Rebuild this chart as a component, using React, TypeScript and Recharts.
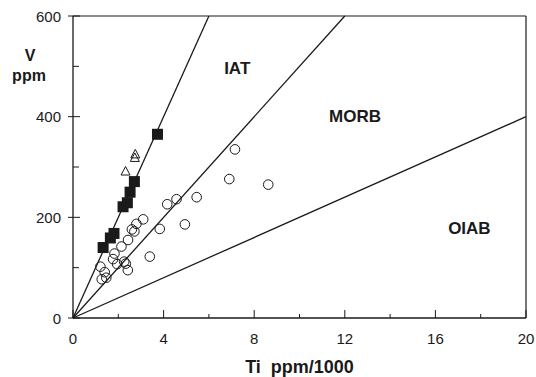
import React from 'react';
import {
  ScatterChart, Scatter, XAxis, YAxis, ReferenceLine, ReferenceDot, Label,
} from 'recharts';

// Ti (ppm/1000) vs V (ppm) discrimination diagram
const squares = [
  { x: 1.33, y: 140 }, { x: 1.65, y: 159 }, { x: 1.81, y: 168 },
  { x: 2.21, y: 221 }, { x: 2.40, y: 229 }, { x: 2.52, y: 250 },
  { x: 2.71, y: 271 }, { x: 3.73, y: 365 },
];

const triangles = [
  { x: 2.32, y: 291 }, { x: 2.73, y: 318 }, { x: 2.75, y: 325 },
];

const circles = [
  { x: 7.15, y: 335 }, { x: 6.9, y: 276 }, { x: 8.62, y: 265 }, { x: 5.46, y: 240 },
  { x: 4.57, y: 236 }, { x: 4.16, y: 226 }, { x: 4.94, y: 186 }, { x: 3.83, y: 177 },
  { x: 3.1, y: 196 }, { x: 2.8, y: 187 }, { x: 2.71, y: 172 }, { x: 2.6, y: 176 },
  { x: 2.43, y: 155 }, { x: 2.14, y: 142 }, { x: 1.83, y: 128 }, { x: 1.77, y: 117 },
  { x: 1.95, y: 107 }, { x: 2.26, y: 112 }, { x: 2.33, y: 108 }, { x: 2.42, y: 95 },
  { x: 3.39, y: 122 }, { x: 1.21, y: 102 }, { x: 1.4, y: 91 }, { x: 1.27, y: 77 },
  { x: 1.47, y: 80 },
];

// Ti/V = 10, 20, 50 lines from the origin
const ratioLines = [
  { end: { x: 6, y: 600 } },
  { end: { x: 12, y: 600 } },
  { end: { x: 20, y: 400 } },
];

const fieldLabels = [
  { name: 'IAT', x: 7.25, y: 497 },
  { name: 'MORB', x: 12.45, y: 402 },
  { name: 'OIAB', x: 17.5, y: 179 },
];

const xTicks = [0, 2, 4, 6, 8, 10, 12, 14, 16, 18, 20];
const yTicks = [0, 100, 200, 300, 400, 500, 600];

const FONT = '"Liberation Sans", Arial, sans-serif';
const INK = '#1a1a1a';

const SquareMark = (p: any) => (
  <rect x={p.cx - 5.5} y={p.cy - 5.5} width={11} height={11} fill={INK} />
);
const CircleMark = (p: any) => (
  <circle cx={p.cx} cy={p.cy} r={4.8} fill="none" stroke={INK} strokeWidth={1} />
);
const TriangleMark = (p: any) => (
  <path
    d={`M${p.cx},${p.cy - 5} L${p.cx + 4.5},${p.cy + 3.5} L${p.cx - 4.5},${p.cy + 3.5} Z`}
    fill="none" stroke={INK} strokeWidth={1}
  />
);

// ticks point into the plot; labels only on the major ones
const XTick = (p: any) => {
  const v = p.payload.value;
  const major = v % 4 === 0;
  return (
    <g>
      <line x1={p.x} y1={p.y} x2={p.x} y2={p.y - (major ? 8 : 4)} stroke={INK} strokeWidth={1} />
      {major && (
        <text x={p.x} y={p.y + 26} textAnchor="middle" fontFamily={FONT} fontSize={15} fill={INK}>
          {v}
        </text>
      )}
    </g>
  );
};

const YTick = (p: any) => {
  const v = p.payload.value;
  const major = v % 200 === 0;
  return (
    <g>
      <line x1={major ? p.x - 5 : p.x} y1={p.y} x2={p.x + (major ? 7 : 6)} y2={p.y} stroke={INK} strokeWidth={1} />
      {major && (
        <text x={p.x - 12} y={p.y + 5.5} textAnchor="end" fontFamily={FONT} fontSize={15} fill={INK}>
          {v}
        </text>
      )}
    </g>
  );
};

export default function App() {
  return (
    <div style={{ position: 'absolute', left: 0, top: 0, width: 536, height: 377, background: '#fff' }}>
      <ScatterChart width={536} height={377} margin={{ top: 16, right: 10, bottom: 0, left: 0 }}>
        <XAxis
          type="number" dataKey="x" domain={[0, 20]} ticks={xTicks} height={59}
          tickSize={0} tickMargin={0} tickLine={false} stroke={INK} strokeWidth={1.3}
          tick={XTick}
        >
          <Label
            value={'Ti\u00A0\u00A0ppm/1000'} position="insideBottom" offset={4}
            style={{ fontSize: 18, fontWeight: 'bold', fontFamily: FONT, fill: INK }}
          />
        </XAxis>
        <YAxis
          type="number" dataKey="y" domain={[0, 600]} ticks={yTicks} width={73}
          tickSize={0} tickMargin={0} tickLine={false} stroke={INK} strokeWidth={1.3}
          tick={YTick}
        >
          <Label
            content={() => (
              <g fontFamily={FONT} fontSize={16} fontWeight="bold" fill={INK} textAnchor="middle">
                <text x={30} y={61}>V</text>
                <text x={29} y={81}>ppm</text>
              </g>
            )}
          />
        </YAxis>
        <ReferenceLine y={600} stroke={INK} strokeWidth={1.2} />
        <ReferenceLine x={20} stroke={INK} strokeWidth={1.2} />
        {ratioLines.map((l, i) => (
          <ReferenceLine
            key={i} segment={[{ x: 0, y: 0 }, l.end]} stroke={INK} strokeWidth={1.3}
          />
        ))}
        {fieldLabels.map((f) => (
          <ReferenceDot key={f.name} x={f.x} y={f.y} r={0} stroke="none" fill="none">
            <Label
              value={f.name} position="center"
              style={{ fontSize: 17, fontWeight: 'bold', fontFamily: FONT, fill: INK }}
            />
          </ReferenceDot>
        ))}
        <Scatter data={circles} shape={CircleMark} isAnimationActive={false} />
        <Scatter data={triangles} shape={TriangleMark} isAnimationActive={false} />
        <Scatter data={squares} shape={SquareMark} isAnimationActive={false} />
      </ScatterChart>
    </div>
  );
}
